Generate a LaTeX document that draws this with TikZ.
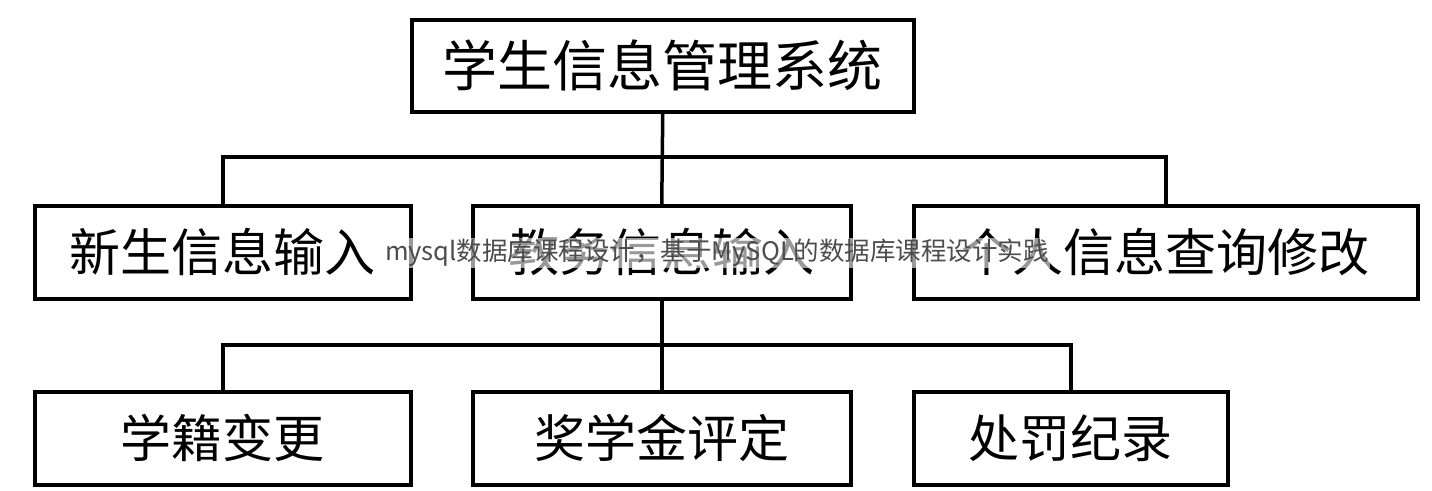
\documentclass[tikz,border=0pt]{standalone}
\usepackage{fontspec}
\newfontfamily\cjk{Noto Sans CJK SC}
\begin{document}
\begin{tikzpicture}[x=1pt,y=-1pt,
  box/.style={draw=black,line width=3.5pt,fill=white,inner sep=0pt,anchor=north west,font=\cjk\fontsize{51}{53}\selectfont},
  ln/.style={line width=3.5pt}]
\useasboundingbox (0,0) rectangle (1432,490);
\node[box,minimum width=502pt,minimum height=92pt,font=\cjk\fontsize{55}{57}\selectfont] (top) at (410,18) {学生信息管理系统};
\node[box,minimum width=376pt,minimum height=93pt] (m1) at (33,204) {新生信息输入};
\node[box,minimum width=378pt,minimum height=93pt] (m2) at (471,204) {教务信息输入};
\node[box,minimum width=504pt,minimum height=93pt] (m3) at (912,204) {个人信息查询修改};
\node[box,minimum width=376pt,minimum height=93pt] (b1) at (33,390) {学籍变更};
\node[box,minimum width=378pt,minimum height=93pt] (b2) at (471,390) {奖学金评定};
\node[box,minimum width=314pt,minimum height=93pt] (b3) at (912,390) {处罚纪录};
\coordinate (h1) at (660,157);
\coordinate (h2) at (660,345);
\draw[ln] (top.south) -- (m2.north);
\draw[ln] (m1.north) |- (h1) -| (m3.north);
\draw[ln] (m2.south) -- (b2.north);
\draw[ln] (b1.north) |- (h2) -| (b3.north);
\node[fill=white,fill opacity=0.6,text opacity=1,text=black!70,inner sep=1pt,font=\cjk\fontsize{25.5}{27}\selectfont] (wm) at (717,253) {mysql数据库课程设计，基于MySQL的数据库课程设计实践};
\end{tikzpicture}
\end{document}
